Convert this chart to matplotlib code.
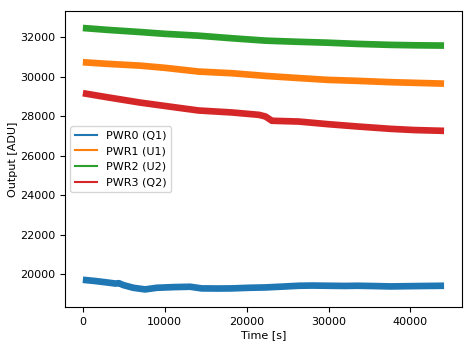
import matplotlib
matplotlib.use("Agg")
import matplotlib.pyplot as plt
from matplotlib.lines import Line2D

# Time samples [s] and readings [ADU]
t_pwr0 = [0, 1500, 2900, 4000, 4400, 4940, 6160, 7600, 9020, 11000, 13100, 14500, 16500, 18200, 20260, 22300, 24500, 26380, 28000, 29860, 32000, 33530, 35500, 37620, 40000, 42000, 44100]
v_pwr0 = [19712, 19650, 19580, 19520, 19540, 19443, 19307, 19225, 19307, 19340, 19360, 19276, 19270, 19276, 19307, 19325, 19370, 19410, 19420, 19410, 19400, 19410, 19395, 19376, 19390, 19400, 19410]

t_pwr1 = [0, 3000, 7000, 10000, 14130, 18200, 22300, 26000, 29860, 33530, 37620, 40500, 44100]
v_pwr1 = [30722, 30640, 30550, 30440, 30250, 30166, 30030, 29930, 29830, 29780, 29712, 29680, 29640]

t_pwr2 = [0, 3000, 7000, 10000, 14130, 18200, 22300, 26000, 29860, 33530, 37620, 40500, 44100]
v_pwr2 = [32455, 32360, 32250, 32160, 32066, 31935, 31815, 31760, 31712, 31650, 31600, 31580, 31565]

t_pwr3 = [0, 2900, 7000, 11070, 14130, 18200, 21500, 22300, 23080, 26380, 29860, 33530, 37620, 40500, 44100]
v_pwr3 = [29157, 28955, 28680, 28450, 28280, 28180, 28060, 27975, 27760, 27720, 27590, 27470, 27350, 27290, 27250]

labels = ["PWR0 (Q1)", "PWR1 (U1)", "PWR2 (U2)", "PWR3 (Q2)"]
colors = ["#1f77b4", "#ff7f0e", "#2ca02c", "#d62728"]

fig = plt.figure(figsize=(4.73, 3.47), dpi=100)
ax = fig.add_axes([0.137, 0.115, 0.840, 0.853])

series = [(t_pwr0, v_pwr0), (t_pwr1, v_pwr1), (t_pwr2, v_pwr2), (t_pwr3, v_pwr3)]
for (t, v), c in zip(series, colors):
    ax.plot(t, v, color=c, lw=4.8, solid_capstyle="butt", solid_joinstyle="round")

handles = [Line2D([0], [0], color=c, lw=1.5) for c in colors]
ax.legend(handles, labels, loc="center left", fontsize=8)

ax.set_xlabel("Time [s]", fontsize=8, labelpad=2)
ax.set_ylabel("Output [ADU]", fontsize=8, labelpad=1.5)
ax.tick_params(labelsize=8)
ax.set_xticks([0, 10000, 20000, 30000, 40000])
ax.set_yticks([20000, 22000, 24000, 26000, 28000, 30000, 32000])
ax.set_xlim(-2205, 46305)
ax.set_ylim(18330, 33310)

fig.savefig("out.png", dpi=100)
